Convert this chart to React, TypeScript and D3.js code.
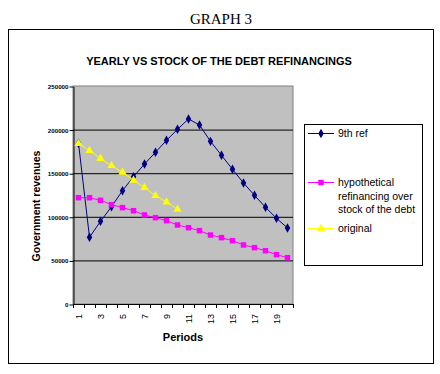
import React, { useRef, useEffect } from "react";
import * as d3 from "d3";

const periods = d3.range(1, 21).map(String);
const ninthRef = [
  184300, 76500, 94800, 111600, 130000, 146000, 160500, 174000, 187700, 200300,
  212200, 205300, 186500, 170500, 154400, 138800, 124600, 110900, 98200, 87200
];
const hypothetical = [
  121900, 121900, 118900, 113900, 110500, 107000, 102100, 99000, 95600, 90600,
  87500, 84100, 79100, 76100, 72600, 67700, 64600, 61100, 56600, 53100
];
const original = [
  183900, 175900, 166700, 158600, 151000, 141800, 133400, 124200, 117000, 108600
];
const yTicks = [0, 50000, 100000, 150000, 200000, 250000];
const xLabels = ["1", "3", "5", "7", "9", "11", "13", "15", "17", "19"];

const series = [
  { name: ["9th ref"], values: ninthRef, color: "#000080", symbol: d3.symbolDiamond, size: 26 },
  {
    name: ["hypothetical", "refinancing over", "stock of the debt"],
    values: hypothetical,
    color: "#FF00FF",
    symbol: d3.symbolSquare,
    size: 30
  },
  { name: ["original"], values: original, color: "#FFFF00", symbol: d3.symbolTriangle, size: 30 }
];

export default function App() {
  const ref = useRef<SVGSVGElement>(null);

  useEffect(() => {
    const svg = d3.select(ref.current);
    svg.selectAll("*").remove();

    const plot = { left: 73, right: 293, top: 86, bottom: 304 };
    const x = d3.scaleBand().domain(periods).range([plot.left, plot.right]);
    const y = d3.scaleLinear().domain([0, 250000]).range([plot.bottom, plot.top]);
    const cx = (p: string) => (x(p) as number) + x.bandwidth() / 2;

    // outer chart border
    svg
      .append("rect")
      .attr("x", 8.5)
      .attr("y", 29.5)
      .attr("width", 425)
      .attr("height", 334)
      .attr("fill", "#fff")
      .attr("stroke", "#000");

    svg
      .append("text")
      .text("GRAPH 3")
      .attr("x", 221)
      .attr("y", 24)
      .attr("text-anchor", "middle")
      .attr("font-family", "Liberation Serif, Times New Roman, serif")
      .attr("font-size", 15);

    svg
      .append("text")
      .text("YEARLY VS STOCK OF THE DEBT REFINANCINGS")
      .attr("x", 219)
      .attr("y", 65)
      .attr("text-anchor", "middle")
      .attr("font-family", "Liberation Sans, Arial, sans-serif")
      .attr("font-weight", "bold")
      .attr("font-size", 11);

    // plot area
    svg
      .append("rect")
      .attr("x", plot.left)
      .attr("y", plot.top)
      .attr("width", plot.right - plot.left)
      .attr("height", plot.bottom - plot.top)
      .attr("fill", "#C0C0C0")
      .attr("stroke", "#808080");

    // gridlines
    svg
      .append("g")
      .selectAll("line")
      .data(yTicks.slice(1, -1))
      .join("line")
      .attr("x1", plot.left)
      .attr("x2", plot.right)
      .attr("y1", (d) => y(d) + 0.5)
      .attr("y2", (d) => y(d) + 0.5)
      .attr("stroke", "#000");

    // y axis
    const yAxis = svg
      .append("g")
      .attr("transform", `translate(${plot.left + 0.5},0.5)`)
      .call(d3.axisLeft(y).tickValues(yTicks).tickSize(4).tickSizeOuter(0).tickFormat(d3.format("d")));
    yAxis.select(".domain").attr("stroke", "#000");
    yAxis.selectAll(".tick line").attr("stroke", "#000");
    yAxis
      .selectAll(".tick text")
      .attr("x", -5)
      .attr("fill", "#000")
      .attr("font-family", "Liberation Sans, Arial, sans-serif")
      .attr("font-weight", "bold")
      .attr("font-size", 6.2);

    // x axis line and boundary ticks
    svg
      .append("line")
      .attr("x1", plot.left)
      .attr("x2", plot.right + 0.5)
      .attr("y1", plot.bottom + 0.5)
      .attr("y2", plot.bottom + 0.5)
      .attr("stroke", "#000");
    const bounds = periods.map((p) => x(p) as number).concat([x.range()[1]]);
    svg
      .append("g")
      .selectAll("line")
      .data(bounds)
      .join("line")
      .attr("x1", (d) => d + 0.5)
      .attr("x2", (d) => d + 0.5)
      .attr("y1", plot.bottom)
      .attr("y2", plot.bottom + 4)
      .attr("stroke", "#000");

    svg
      .append("g")
      .selectAll("text")
      .data(xLabels)
      .join("text")
      .text((d) => d)
      .attr("transform", (d) => `translate(${cx(d) + 3},${plot.bottom + 10}) rotate(-90)`)
      .attr("text-anchor", "end")
      .attr("font-family", "Liberation Sans, Arial, sans-serif")
      .attr("font-size", 9);

    svg
      .append("text")
      .text("Periods")
      .attr("x", (plot.left + plot.right) / 2)
      .attr("y", 341)
      .attr("text-anchor", "middle")
      .attr("font-family", "Liberation Sans, Arial, sans-serif")
      .attr("font-weight", "bold")
      .attr("font-size", 11);

    svg
      .append("text")
      .text("Government revenues")
      .attr("transform", `translate(40,206) rotate(-90)`)
      .attr("text-anchor", "middle")
      .attr("font-family", "Liberation Sans, Arial, sans-serif")
      .attr("font-weight", "bold")
      .attr("font-size", 10.5);

    // series
    series.forEach((s) => {
      const pts = s.values.map((v, i) => [cx(periods[i]), y(v)] as [number, number]);
      svg
        .append("path")
        .attr("d", d3.line()(pts))
        .attr("fill", "none")
        .attr("stroke", s.color)
        .attr("stroke-width", 1);
      svg
        .append("g")
        .selectAll("path")
        .data(pts)
        .join("path")
        .attr("transform", (d) => `translate(${d[0]},${d[1]})`)
        .attr("d", d3.symbol().type(s.symbol).size(s.size)())
        .attr("fill", s.color);
    });

    // legend
    svg
      .append("rect")
      .attr("x", 304.5)
      .attr("y", 124.5)
      .attr("width", 118)
      .attr("height", 141)
      .attr("fill", "#fff")
      .attr("stroke", "#000");

    const rowY = [133, 182, 228];
    series.forEach((s, i) => {
      const g = svg.append("g").attr("transform", `translate(0,${rowY[i]})`);
      g.append("line")
        .attr("x1", 308)
        .attr("x2", 334)
        .attr("y1", 0.5)
        .attr("y2", 0.5)
        .attr("stroke", s.color);
      g.append("path")
        .attr("transform", "translate(321,0.5)")
        .attr("d", d3.symbol().type(s.symbol).size(s.size)())
        .attr("fill", s.color);
      g.selectAll("text")
        .data(s.name)
        .join("text")
        .text((d) => d)
        .attr("x", 338)
        .attr("y", (d, j) => j * 13.7 + 4)
        .attr("font-family", "Liberation Sans, Arial, sans-serif")
        .attr("font-size", 10.5);
    });
  }, []);

  return (
    <svg
      ref={ref}
      width={440}
      height={374}
      style={{ position: "absolute", left: 0, top: 0, background: "#fff" }}
    />
  );
}
